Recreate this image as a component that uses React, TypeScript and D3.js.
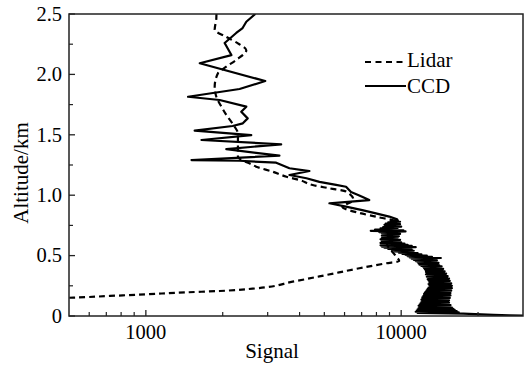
import * as d3 from "d3";

const W = 530;
const H = 367;
const margin = { left: 69, right: 7, top: 14, bottom: 51 };

const yTicks = [0, 0.5, 1.0, 1.5, 2.0, 2.5];
const yTickLabels = ["0", "0.5", "1.0", "1.5", "2.0", "2.5"];
const yMinor = [0.25, 0.75, 1.25, 1.75, 2.25];
const xTicks = [1000, 10000];
const xTickLabels = ["1000", "10000"];
const xMinor = [600, 700, 800, 900, 2000, 3000, 4000, 5000, 6000, 7000, 8000, 9000, 20000];
const seriesNames = ["Lidar", "CCD"];

// [signal, altitude km]
const lidar: [number, number][] = [
  [1890, 2.5], [1888, 2.464], [1860, 2.37], [2066, 2.31], [2294, 2.257], [2474, 2.2],
  [2259, 2.12], [2066, 2.064], [1916, 2.01], [1860, 1.898], [1888, 1.815], [1976, 1.733],
  [2066, 1.664], [2227, 1.567], [2294, 1.512], [2294, 1.4], [2294, 1.32], [2624, 1.25],
  [2706, 1.236], [3134, 1.195], [3555, 1.153], [3996, 1.126], [4503, 1.084], [5234, 1.057],
  [6082, 1.03], [6500, 0.96], [5883, 0.905], [6855, 0.853], [7961, 0.822], [9550, 0.78],
  [9000, 0.7], [8800, 0.6], [9500, 0.5], [9820, 0.455], [8720, 0.436], [6855, 0.395],
  [5080, 0.339], [3757, 0.284], [2706, 0.229], [1945, 0.207], [1442, 0.196], [1006, 0.18],
  [723, 0.166], [520, 0.152], [400, 0.145],
];

const ccd: [number, number][] = [
  [2683, 2.5], [2474, 2.436], [2393, 2.384], [2259, 2.343], [2035, 2.26], [2163, 2.16],
  [1626, 2.092], [2935, 1.945], [2328, 1.879], [1463, 1.815], [1945, 1.788], [2474, 1.733],
  [2364, 1.691], [2505, 1.636], [2398, 1.595], [2187, 1.573], [1553, 1.534], [2587, 1.498],
  [1651, 1.457], [3388, 1.421], [2066, 1.382], [3335, 1.327], [1509, 1.291], [2328, 1.285],
  [3240, 1.269], [3651, 1.223], [4371, 1.2], [3651, 1.167], [4256, 1.14], [4784, 1.11],
  [5560, 1.085], [6082, 1.07], [6361, 1.026], [6855, 0.998], [7499, 0.96], [5236, 0.933],
  [6082, 0.905], [7041, 0.877], [7961, 0.85], [8977, 0.823], [9640, 0.8],
  [9700, 0.79], [9100, 0.785], [9900, 0.78], [8900, 0.775], [9800, 0.77], [8700, 0.765],
  [9900, 0.76], [8600, 0.755], [9800, 0.75], [8700, 0.745], [10000, 0.74], [8500, 0.735],
  [9700, 0.73], [8300, 0.725], [9500, 0.72], [7900, 0.715], [10200, 0.71], [7600, 0.705],
  [10400, 0.7], [8200, 0.695], [9700, 0.69], [8400, 0.685], [9900, 0.68], [8500, 0.675],
  [9600, 0.67], [8400, 0.665], [9800, 0.66], [8500, 0.655], [9700, 0.65], [8400, 0.645],
  [9500, 0.64], [8300, 0.635], [9900, 0.63], [8500, 0.625], [9600, 0.62], [8400, 0.615],
  [10000, 0.61], [8300, 0.605], [10300, 0.6], [8400, 0.595], [10600, 0.59], [8300, 0.585],
  [11000, 0.58], [8400, 0.575], [11400, 0.57], [8600, 0.565], [10800, 0.56], [8900, 0.555],
  [11000, 0.55], [9200, 0.545], [11200, 0.54], [9400, 0.535], [11000, 0.53], [9800, 0.525],
  [11600, 0.52], [10100, 0.515], [12000, 0.51], [10400, 0.505], [12600, 0.5], [10600, 0.495],
  [13200, 0.49], [10800, 0.485], [14300, 0.48], [11000, 0.475], [13500, 0.47], [11200, 0.465],
  [13800, 0.46], [11400, 0.455], [13600, 0.45], [11600, 0.445], [14000, 0.44], [11700, 0.435],
  [13900, 0.43], [11800, 0.425], [14100, 0.42], [12000, 0.415], [14400, 0.41], [12200, 0.405],
  [14200, 0.4], [12300, 0.395], [14600, 0.39], [12400, 0.385], [14500, 0.38], [12500, 0.375],
  [14800, 0.37], [12500, 0.365], [14700, 0.36], [12600, 0.355], [15000, 0.35], [12500, 0.345],
  [14900, 0.34], [12700, 0.335], [15200, 0.33], [12600, 0.325], [15100, 0.32], [12800, 0.315],
  [15400, 0.31], [12700, 0.305], [15300, 0.3], [12800, 0.295], [15500, 0.29], [12900, 0.285],
  [15300, 0.28], [12900, 0.275], [15700, 0.27], [12800, 0.265], [15600, 0.26], [12900, 0.255],
  [15800, 0.25], [13000, 0.245], [15600, 0.24], [12800, 0.235], [15800, 0.23], [12700, 0.225],
  [15500, 0.22], [12600, 0.215], [15700, 0.21], [12500, 0.205], [15400, 0.2], [12400, 0.195],
  [15600, 0.19], [12300, 0.185], [15500, 0.18], [12300, 0.175], [15600, 0.17], [12200, 0.165],
  [15300, 0.16], [12100, 0.155], [15500, 0.15], [12100, 0.145], [15200, 0.14], [12000, 0.135],
  [15400, 0.13], [12100, 0.125], [15300, 0.12], [12000, 0.115], [15400, 0.11], [11900, 0.105],
  [15200, 0.1], [11800, 0.095], [15600, 0.09], [11700, 0.085], [15400, 0.08], [11800, 0.075],
  [15800, 0.07], [11700, 0.065], [16000, 0.06], [11600, 0.055], [16200, 0.05], [11500, 0.045],
  [16500, 0.04], [11400, 0.035], [16800, 0.03], [11600, 0.025], [17500, 0.02], [19500, 0.015],
  [23000, 0.01], [26500, 0.006], [30000, 0.003],
];

export default function App() {
  const x = d3.scaleLog().domain([500, 30000]).range([margin.left, W - margin.right]);
  const y = d3.scaleLinear().domain([0, 2.5]).range([H - margin.bottom, margin.top]);
  const line = d3
    .line<[number, number]>()
    .x((d) => x(d[0]))
    .y((d) => y(d[1]));
  const smooth = d3
    .line<[number, number]>()
    .x((d) => x(d[0]))
    .y((d) => y(d[1]))
    .curve(d3.curveMonotoneY);

  const x0 = margin.left;
  const x1 = W - margin.right;
  const y0 = H - margin.bottom;
  const y1 = margin.top;
  const font = "'Liberation Serif', 'Times New Roman', serif";

  return (
    <svg
      width={W}
      height={H}
      style={{ position: "absolute", left: 0, top: 0, background: "#fff" }}
      fontFamily={font}
    >
      <defs>
        <clipPath id="plot">
          <rect x={x0} y={y1} width={x1 - x0} height={y0 - y1} />
        </clipPath>
      </defs>
      <rect width={W} height={H} fill="#fff" />

      <g clipPath="url(#plot)" fill="none" stroke="#000" strokeWidth={2.2} strokeLinejoin="round">
        <path d={smooth(lidar) ?? ""} strokeDasharray="6,4" />
        <path d={line(ccd) ?? ""} />
      </g>

      {/* frame */}
      <rect x={x0} y={y1} width={x1 - x0} height={y0 - y1} fill="none" stroke="#222" strokeWidth={1.5} />

      {/* y ticks */}
      {yTicks.map((t, i) => (
        <g key={"y" + t}>
          <line x1={x0} x2={x0 + 6} y1={y(t)} y2={y(t)} stroke="#222" strokeWidth={1.3} />
          <text x={62} y={y(t)} dy="0.33em" textAnchor="end" fontSize={20.5} fill="#000">
            {yTickLabels[i]}
          </text>
        </g>
      ))}
      {yMinor.map((t) => (
        <line key={"ym" + t} x1={x0} x2={x0 + 4} y1={y(t)} y2={y(t)} stroke="#222" strokeWidth={1.2} />
      ))}

      {/* x ticks */}
      {xTicks.map((t, i) => (
        <g key={"x" + t}>
          <line x1={x(t)} x2={x(t)} y1={y0} y2={y0 - 6} stroke="#222" strokeWidth={1.3} />
          <text x={x(t)} y={339} textAnchor="middle" fontSize={20.5} fill="#000">
            {xTickLabels[i]}
          </text>
        </g>
      ))}
      {xMinor.map((t) => (
        <line key={"xm" + t} x1={x(t)} x2={x(t)} y1={y0} y2={y0 - 4} stroke="#222" strokeWidth={1.2} />
      ))}

      {/* axis titles */}
      <text x={272} y={358} textAnchor="middle" fontSize={21} fill="#000">
        Signal
      </text>
      <text transform="translate(28,173) rotate(-90)" textAnchor="middle" fontSize={21} fill="#000">
        Altitude/km
      </text>

      {/* legend */}
      <line x1={365} x2={406} y1={62} y2={62} stroke="#000" strokeWidth={2} strokeDasharray="6,4.5" />
      <text x={407} y={67} fontSize={21} fill="#000">
        {seriesNames[0]}
      </text>
      <line x1={365} x2={406} y1={86} y2={86} stroke="#000" strokeWidth={2} />
      <text x={407} y={93} fontSize={21} fill="#000">
        {seriesNames[1]}
      </text>
    </svg>
  );
}
